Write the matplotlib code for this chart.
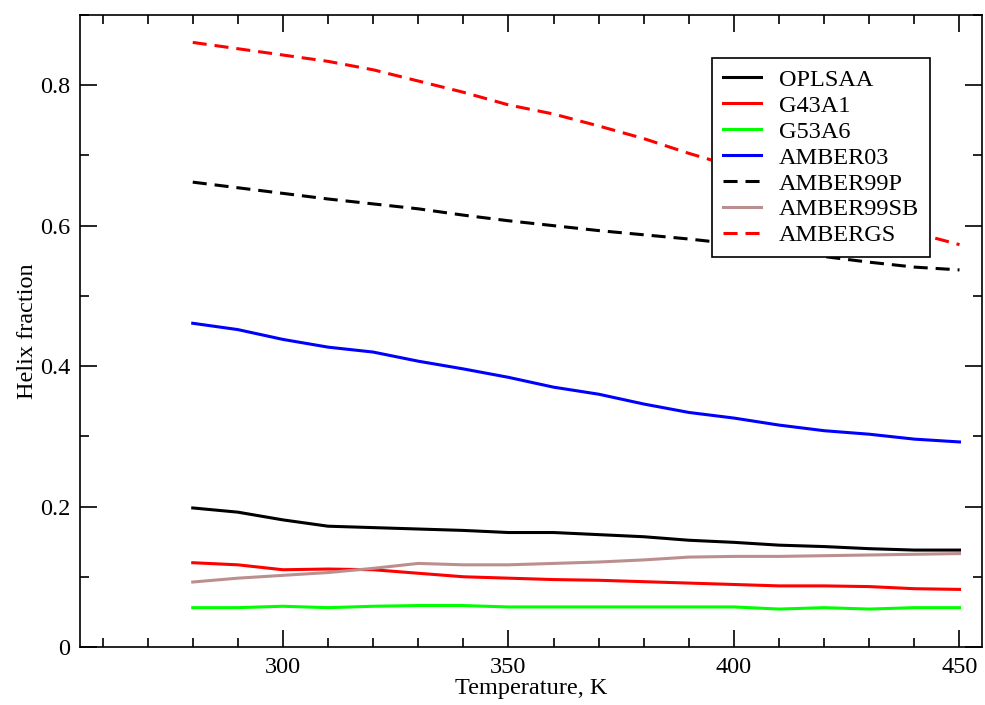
import matplotlib
matplotlib.use("Agg")
import matplotlib.pyplot as plt
from matplotlib.ticker import MultipleLocator

plt.rcParams['font.family'] = ['Liberation Serif', 'DejaVu Serif']

temperature = [280, 290, 300, 310, 320, 330, 340, 350, 360,
               370, 380, 390, 400, 410, 420, 430, 440, 450]

oplsaa = [0.198, 0.192, 0.181, 0.172, 0.170, 0.168, 0.166, 0.163, 0.163,
          0.160, 0.157, 0.152, 0.149, 0.145, 0.143, 0.140, 0.138, 0.138]
g43a1 = [0.120, 0.117, 0.110, 0.111, 0.110, 0.105, 0.100, 0.098, 0.096,
         0.095, 0.093, 0.091, 0.089, 0.087, 0.087, 0.086, 0.083, 0.082]
g53a6 = [0.056, 0.056, 0.058, 0.056, 0.058, 0.059, 0.059, 0.057, 0.057,
         0.057, 0.057, 0.057, 0.057, 0.054, 0.056, 0.054, 0.056, 0.056]
amber03 = [0.461, 0.452, 0.438, 0.427, 0.420, 0.407, 0.396, 0.384, 0.370,
           0.360, 0.346, 0.334, 0.326, 0.316, 0.308, 0.303, 0.296, 0.292]
amber99p = [0.662, 0.654, 0.646, 0.638, 0.631, 0.624, 0.615, 0.607, 0.600,
            0.593, 0.587, 0.581, 0.574, 0.565, 0.556, 0.548, 0.541, 0.537]
amber99sb = [0.0925, 0.098, 0.102, 0.106, 0.112, 0.119, 0.117, 0.117, 0.119,
             0.121, 0.124, 0.128, 0.129, 0.129, 0.130, 0.131, 0.132, 0.133]
ambergs = [0.861, 0.852, 0.843, 0.834, 0.822, 0.806, 0.790, 0.772, 0.759,
           0.742, 0.724, 0.703, 0.684, 0.661, 0.637, 0.613, 0.590, 0.573]

series = [
    ("OPLSAA", oplsaa, "#000000", "-"),
    ("G43A1", g43a1, "#ff0000", "-"),
    ("G53A6", g53a6, "#00ff00", "-"),
    ("AMBER03", amber03, "#0000ff", "-"),
    ("AMBER99P", amber99p, "#000000", "--"),
    ("AMBER99SB", amber99sb, "#bc8f8f", "-"),
    ("AMBERGS", ambergs, "#ff0000", "--"),
]

fig = plt.figure(figsize=(9.85, 7.05), dpi=100)
ax = fig.add_axes([0.0812, 0.0823, 0.9158, 0.8964])

for name, vals, color, ls in series:
    line, = ax.plot(temperature, vals, color=color, linestyle=ls, lw=2.2,
                    label=name)
    if ls == "--":
        line.set_dashes((4.6, 2.6))

ax.set_xlim(255, 455)
ax.set_ylim(0, 0.9)
ax.xaxis.set_major_locator(MultipleLocator(50))
ax.xaxis.set_minor_locator(MultipleLocator(10))
ax.yaxis.set_minor_locator(MultipleLocator(0.1))
ax.set_yticks([0, 0.2, 0.4, 0.6, 0.8])
ax.set_yticklabels(["0", "0.2", "0.4", "0.6", "0.8"])
ax.tick_params(which="both", direction="in", top=True, right=True,
               labelsize=17.5, width=1.2)
ax.tick_params(axis="y", pad=7)
ax.tick_params(axis="x", pad=7)
ax.tick_params(which="major", length=12.5)
ax.tick_params(which="minor", length=6.5)
for sp in ax.spines.values():
    sp.set_linewidth(1.2)

ax.set_xlabel("Temperature, K", fontsize=17.5, labelpad=0)
ax.set_ylabel("Helix fraction", fontsize=17.5, labelpad=1.5)

leg = ax.legend(loc="upper left", bbox_to_anchor=(0.7007, 0.932),
                borderaxespad=0, fontsize=17.5, frameon=True, fancybox=False,
                framealpha=1, edgecolor="black", handlelength=1.55,
                handletextpad=0.75, labelspacing=0.16, borderpad=0.45)
leg.get_frame().set_linewidth(1.2)

fig.savefig("out.png", dpi=100)
